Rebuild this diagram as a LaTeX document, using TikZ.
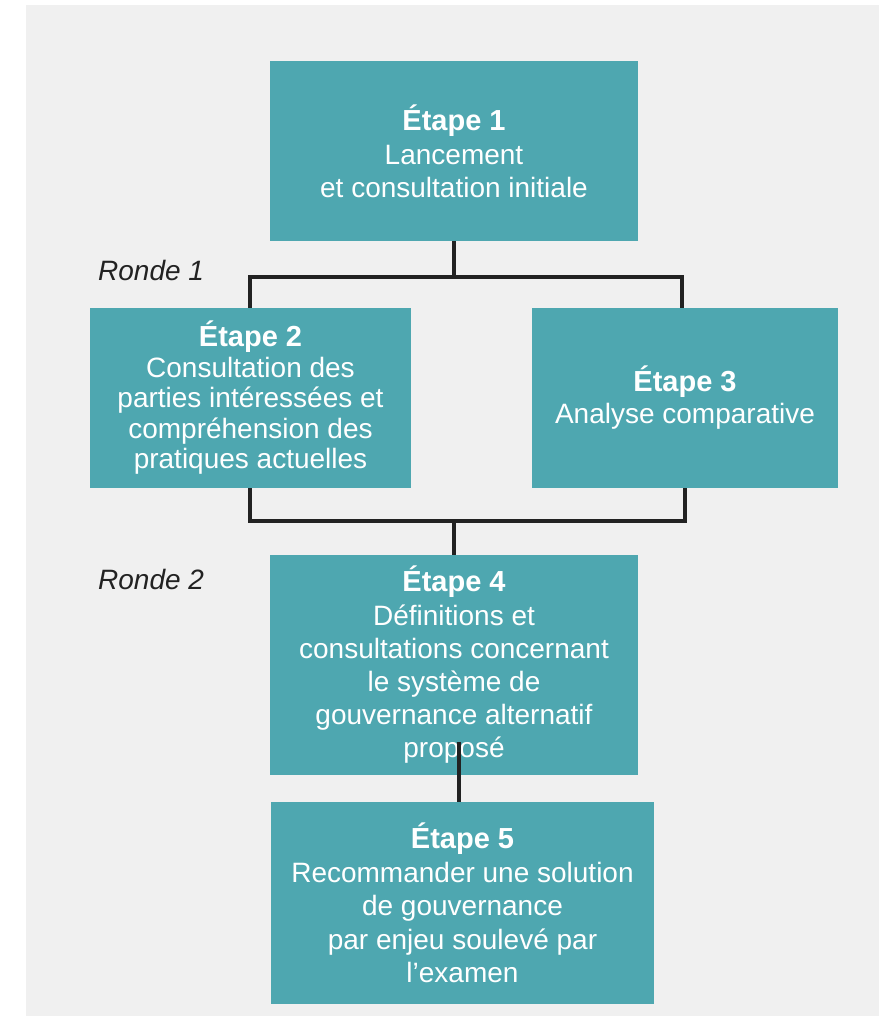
\documentclass[tikz,border=0pt]{standalone}
\usepackage{fontspec}
\setmainfont{Liberation Sans}
\definecolor{teal1}{RGB}{78,167,176}
\definecolor{bggray}{RGB}{240,240,240}
\definecolor{linec}{RGB}{34,34,34}
\newcommand{\ttl}[1]{{\fontsize{29}{33}\selectfont\bfseries #1}}
\begin{document}
\begin{tikzpicture}[x=1pt,y=-1pt,
  stepbox/.style={fill=teal1,draw=none,inner sep=0pt,align=center,text=white,
    font=\fontsize{28}{33}\selectfont},
  conn/.style={draw=linec,line width=3.2pt},
  ronde/.style={anchor=base west,inner sep=0pt,text=linec,font=\fontsize{28}{33}\selectfont\itshape}]
\useasboundingbox (0,0) rectangle (879,1016);
\fill[white] (0,0) rectangle (879,1016);
\fill[bggray] (26,5) rectangle (879,1016);

\node[stepbox,minimum width=368pt,minimum height=180pt] (b1) at (454,151)
  {\ttl{Étape 1}\\[1pt]Lancement\\et consultation initiale};
\node[stepbox,minimum width=321pt,minimum height=180pt,
  font=\fontsize{28}{30.5}\selectfont] (b2) at (250.5,398)
  {\ttl{Étape 2}\\Consultation des\\parties intéressées et\\compréhension des\\pratiques actuelles};
\node[stepbox,minimum width=306pt,minimum height=180pt,
  font=\fontsize{28}{32}\selectfont] (b3) at (685,398)
  {\ttl{Étape 3}\\Analyse comparative};
\node[stepbox,minimum width=368pt,minimum height=220pt] (b4) at (454,665)
  {\ttl{Étape 4}\\[1pt]Définitions et\\consultations concernant\\le système de\\gouvernance alternatif\\proposé};
\node[stepbox,minimum width=383pt,minimum height=202pt,
  font=\fontsize{28}{33.5}\selectfont] (b5) at (462.5,903)
  {\ttl{Étape 5}\\Recommander une solution\\de gouvernance\\par enjeu soulevé par\\l’examen};

\node[ronde] (r1) at (98,280) {Ronde 1};
\node[ronde] (r2) at (98,589) {Ronde 2};

\coordinate (tl) at (250,277);
\coordinate (tr) at (682,277);
\coordinate (bl) at (250,521);
\coordinate (br) at (685,521);
\coordinate (c45) at (459,742);

\draw[conn] (b1.south) -- (b1.south |- tl);
\draw[conn] (b2.north -| tl) -- (tl) -- (tr) -- (b3.north -| tr);
\draw[conn] (b2.south -| bl) -- (bl) -- (br) -- (b3.south -| br);
\draw[conn] (b4.north |- bl) -- (b4.north);
\draw[conn] (c45) -- (c45 |- b5.north);
\end{tikzpicture}
\end{document}
